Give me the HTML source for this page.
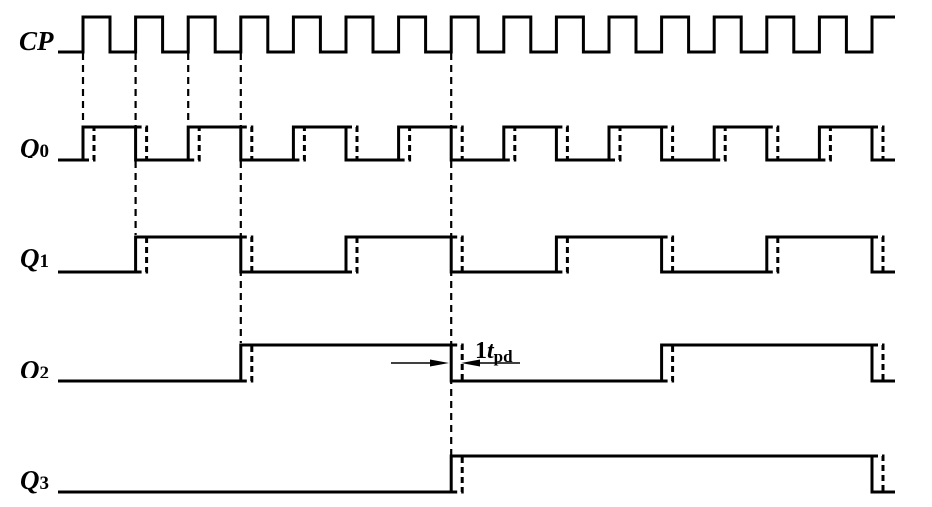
<!DOCTYPE html>
<html><head><meta charset="utf-8"><style>
html,body{margin:0;padding:0;background:#fff;width:932px;height:507px;overflow:hidden}
svg text{font-family:"Liberation Serif",serif;font-weight:bold}
</style></head><body>
<svg id="s" width="932" height="507" xmlns="http://www.w3.org/2000/svg">
<rect width="932" height="507" fill="#fff"/>
<g font-size="27">
<text x="19" y="50" font-style="italic">CP</text>
<text x="20" y="157" font-style="italic">Q<tspan font-style="normal" font-size="19">0</tspan></text>
<text x="20" y="267" font-style="italic">Q<tspan font-style="normal" font-size="19">1</tspan></text>
<text x="20" y="379" font-style="italic">Q<tspan font-style="normal" font-size="19">2</tspan></text>
<text x="20" y="489" font-style="italic">Q<tspan font-style="normal" font-size="19">3</tspan></text>
</g>
<rect x="15" y="158" width="43" height="15" fill="#fff"/>
<rect x="15" y="378" width="43" height="15" fill="#fff"/>
<g id="w" fill="none" stroke="#000"></g>
<text x="475" y="358" font-size="24">1<tspan font-style="italic">t</tspan><tspan font-size="17" dy="4">pd</tspan></text>
<line x1="391" y1="363" x2="440" y2="363" stroke="#000" stroke-width="1.5"/>
<polygon points="449,363 430,359.5 430,366.5" fill="#000"/>
<line x1="470" y1="363" x2="520" y2="363" stroke="#000" stroke-width="1.5"/>
<polygon points="461,363 480,359.5 480,366.5" fill="#000"/>
</svg>
<script>
var g=document.getElementById('w'),P=52.6,R0=83,E=895;
function add(s){g.insertAdjacentHTML('beforeend',s);}
var d='M58 52 ';
for(var k=0;k<16;k++){var r=R0+k*P;d+='L'+r+' 52 L'+r+' 17 ';var f=r+27;if(f<E)d+='L'+f+' 17 L'+f+' 52 ';}
d+='L'+E+' 17';
add('<path d="'+d+'" stroke-width="3"/>');
function wave(edges,hi,lo){
 var s='M58 '+lo+' ',st=0;
 edges.forEach(function(x){var y=st?hi:lo;s+='L'+x+' '+y+' ';st=1-st;s+='L'+x+' '+(st?hi:lo)+' ';
  var dx=x+11;
  if(st){add('<path d="M'+x+' '+lo+' L'+dx+' '+lo+' L'+dx+' '+hi+'" stroke-width="3" stroke-dasharray="6,4"/>');}
  else{add('<path d="M'+x+' '+hi+' L'+dx+' '+hi+' L'+dx+' '+lo+'" stroke-width="3" stroke-dasharray="6,4"/>');}
 });
 s+='L'+E+' '+(st?hi:lo);
 add('<path d="'+s+'" stroke-width="3"/>');
}
var e0=[],e1=[],e2=[],e3;
for(var k=0;k<16;k++)e0.push(R0+k*P);
for(var k=1;k<16;k+=2)e1.push(R0+k*P);
for(var k=3;k<16;k+=4)e2.push(R0+k*P);
e3=[R0+7*P,R0+15*P];
wave(e0,127,160);wave(e1,237,272);wave(e2,345,381);wave(e3,456,492);
function vl(x,y1,y2){add('<line x1="'+x+'" y1="'+y1+'" x2="'+x+'" y2="'+y2+'" stroke-width="2.2" stroke-dasharray="7,5"/>');}
vl(R0,53,125);vl(R0+P,53,235);vl(R0+2*P,53,125);vl(R0+3*P,53,343);vl(R0+7*P,53,490);
</script>
</body></html>
